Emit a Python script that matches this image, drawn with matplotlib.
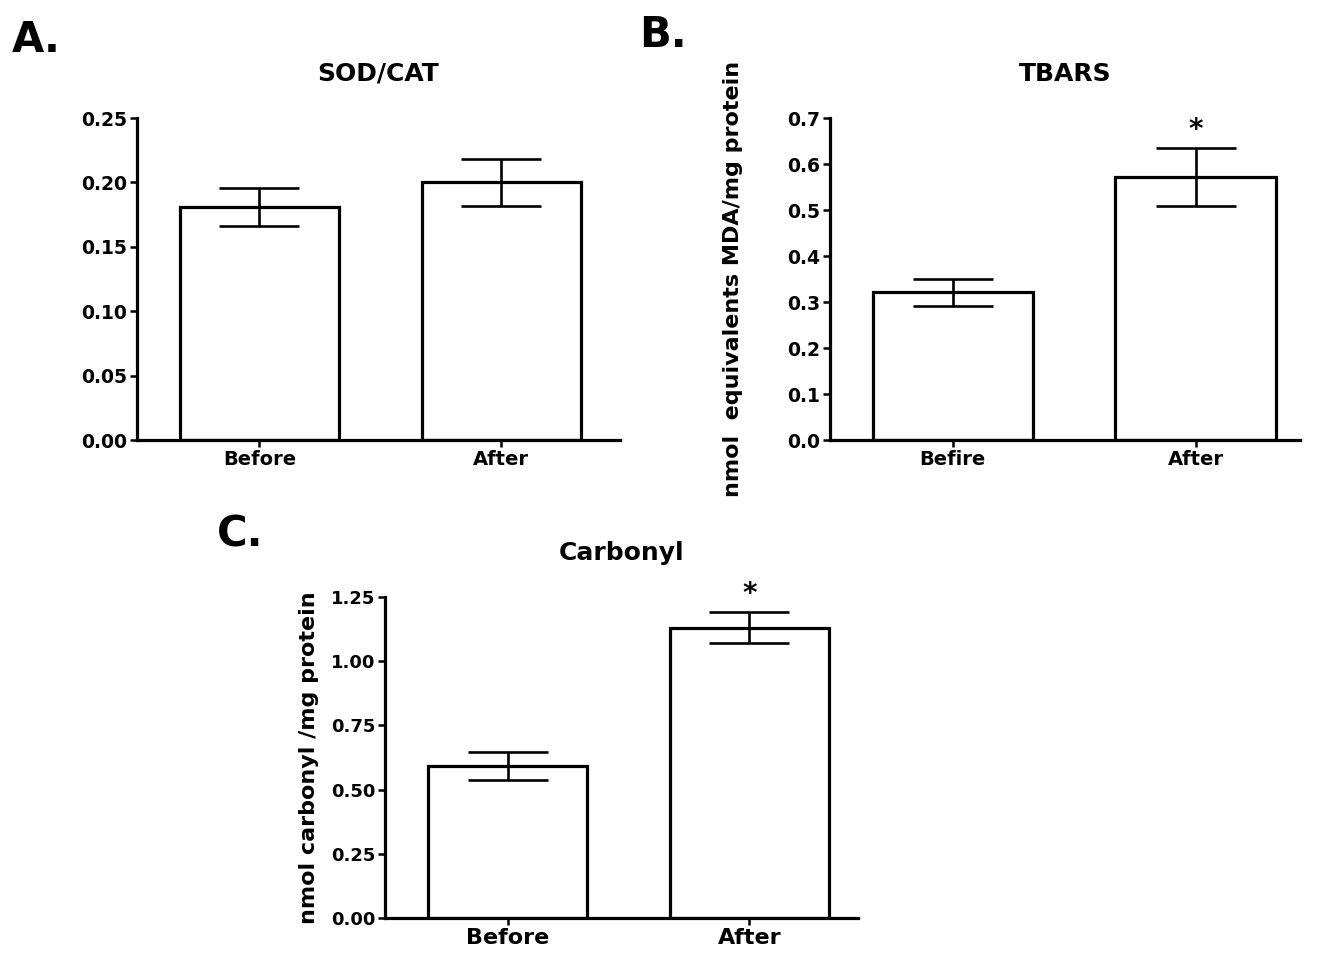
import numpy as np
import matplotlib
matplotlib.use("Agg")
import matplotlib.pyplot as plt

# ── Data ──────────────────────────────────────────────────────────────────────

sod_labels = ["Before", "After"]
sod_means  = [0.181, 0.200]
sod_sem    = [0.015, 0.018]

tbars_labels = ["Befire", "After"]
tbars_means  = [0.321, 0.572]
tbars_sem    = [0.030, 0.063]

carb_labels = ["Before", "After"]
carb_means  = [0.592, 1.131]
carb_sem    = [0.053, 0.060]

# ── Style ─────────────────────────────────────────────────────────────────────

plt.rcParams["font.family"] = ["DejaVu Sans"]
plt.rcParams["font.weight"] = "bold"

LW = 2.3


def bar_panel(ax, labels, means, sem, ylim, yticks, fmt, title, xlim,
              ylabel=None, ylabel_x=None, stars=None, tick_fs=13.5, xlab_fs=14):
    x = np.arange(len(labels))
    ax.bar(x, means, width=0.66, color="white", edgecolor="black", linewidth=LW, zorder=2)
    ax.errorbar(x, means, yerr=sem, fmt="none", ecolor="black", elinewidth=1.9,
                capsize=29, capthick=1.9, zorder=3)
    if stars:
        for i in stars:
            ax.text(x[i], means[i] + sem[i] + ylim[1] * 0.012, "*", ha="center", va="bottom",
                    fontsize=20, fontweight="bold", clip_on=False)
    ax.set_xlim(*xlim)
    ax.set_ylim(*ylim)
    ax.set_yticks(yticks)
    ax.set_yticklabels([fmt.format(v) for v in yticks], fontsize=tick_fs, fontweight="bold")
    ax.set_xticks(x)
    ax.set_xticklabels(labels, fontsize=xlab_fs, fontweight="bold")
    ax.spines["top"].set_visible(False)
    ax.spines["right"].set_visible(False)
    ax.spines["left"].set_linewidth(LW)
    ax.spines["bottom"].set_linewidth(LW)
    ax.tick_params(direction="out", length=5, width=1.8, pad=2)
    ax.set_title(title, fontsize=18, fontweight="bold", pad=27)
    if ylabel:
        ax.set_ylabel(ylabel, fontsize=16, fontweight="bold")
        ax.yaxis.set_label_coords(ylabel_x, 0.5)


fig = plt.figure(figsize=(13.25, 9.58), dpi=100)

ax_a = fig.add_axes([0.1034, 0.5407, 0.3645, 0.3361])
ax_b = fig.add_axes([0.6264, 0.5407, 0.3547, 0.3361])
ax_c = fig.add_axes([0.2906, 0.0418, 0.3570, 0.3350])

bar_panel(ax_a, sod_labels, sod_means, sod_sem, (0, 0.25),
          np.arange(0, 0.26, 0.05), "{:.2f}", "SOD/CAT", (-0.506, 1.49))
bar_panel(ax_b, tbars_labels, tbars_means, tbars_sem, (0, 0.7),
          np.arange(0, 0.71, 0.1), "{:.1f}", "TBARS", (-0.506, 1.43),
          ylabel="nmol  equivalents MDA/mg protein", ylabel_x=-0.185, stars=[1])
bar_panel(ax_c, carb_labels, carb_means, carb_sem, (0, 1.25),
          np.arange(0, 1.26, 0.25), "{:.2f}", "Carbonyl", (-0.508, 1.45),
          ylabel="nmol carbonyl /mg protein", ylabel_x=-0.14, stars=[1],
          tick_fs=13, xlab_fs=16)

fig.text(0.009, 0.958, "A.", fontsize=30, fontweight="bold", va="center")
fig.text(0.482, 0.963, "B.", fontsize=30, fontweight="bold", va="center")
fig.text(0.164, 0.442, "C.", fontsize=30, fontweight="bold", va="center")

fig.savefig("out.png", dpi=100)
